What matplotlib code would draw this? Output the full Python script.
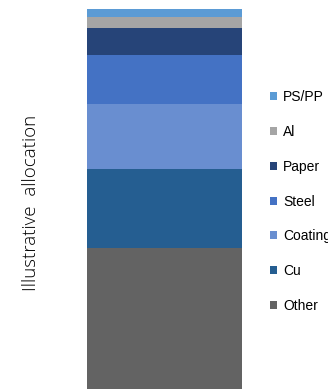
import matplotlib
matplotlib.use("Agg")
import matplotlib.pyplot as plt

categories = ["Other", "Cu", "Coating", "Steel", "Paper", "Al", "PS/PP"]
values = [37, 21, 17, 13, 7, 3, 2]
colors = ["#636363", "#255E91", "#698ED0", "#4472C4", "#264478", "#A5A5A5", "#5B9BD5"]
ylabel = "Illustrative  allocation"

W, H = 328, 389
fig = plt.figure(figsize=(W / 100, H / 100), dpi=100)
ax = fig.add_axes([87 / W, 0, (242 - 87) / W, (389 - 9) / H])

bottom = 0
handles = []
for cat, v, c in zip(categories, values, colors):
    b = ax.bar([0], [v], bottom=bottom, width=1.0, color=c, label=cat, linewidth=0)
    handles.append(b)
    bottom += v
ax.set_xlim(-0.5, 0.5)
ax.set_ylim(0, sum(values))
ax.axis("off")

fig.text(31 / W, 1 - 203 / H, ylabel, rotation=90, ha="center", va="center",
         fontsize=13.5, family="Open Sans", fontweight="light", color="#000000")

leg = fig.legend(handles[::-1], categories[::-1], loc="upper left",
                 bbox_to_anchor=(270 / W, 1 - 90 / H), frameon=False,
                 borderpad=0, borderaxespad=0, handlelength=0.5, handleheight=0.5,
                 handletextpad=0.45, labelspacing=1.5,
                 prop={"family": "Liberation Sans", "size": 10})

fig.savefig("out.png", dpi=100)
